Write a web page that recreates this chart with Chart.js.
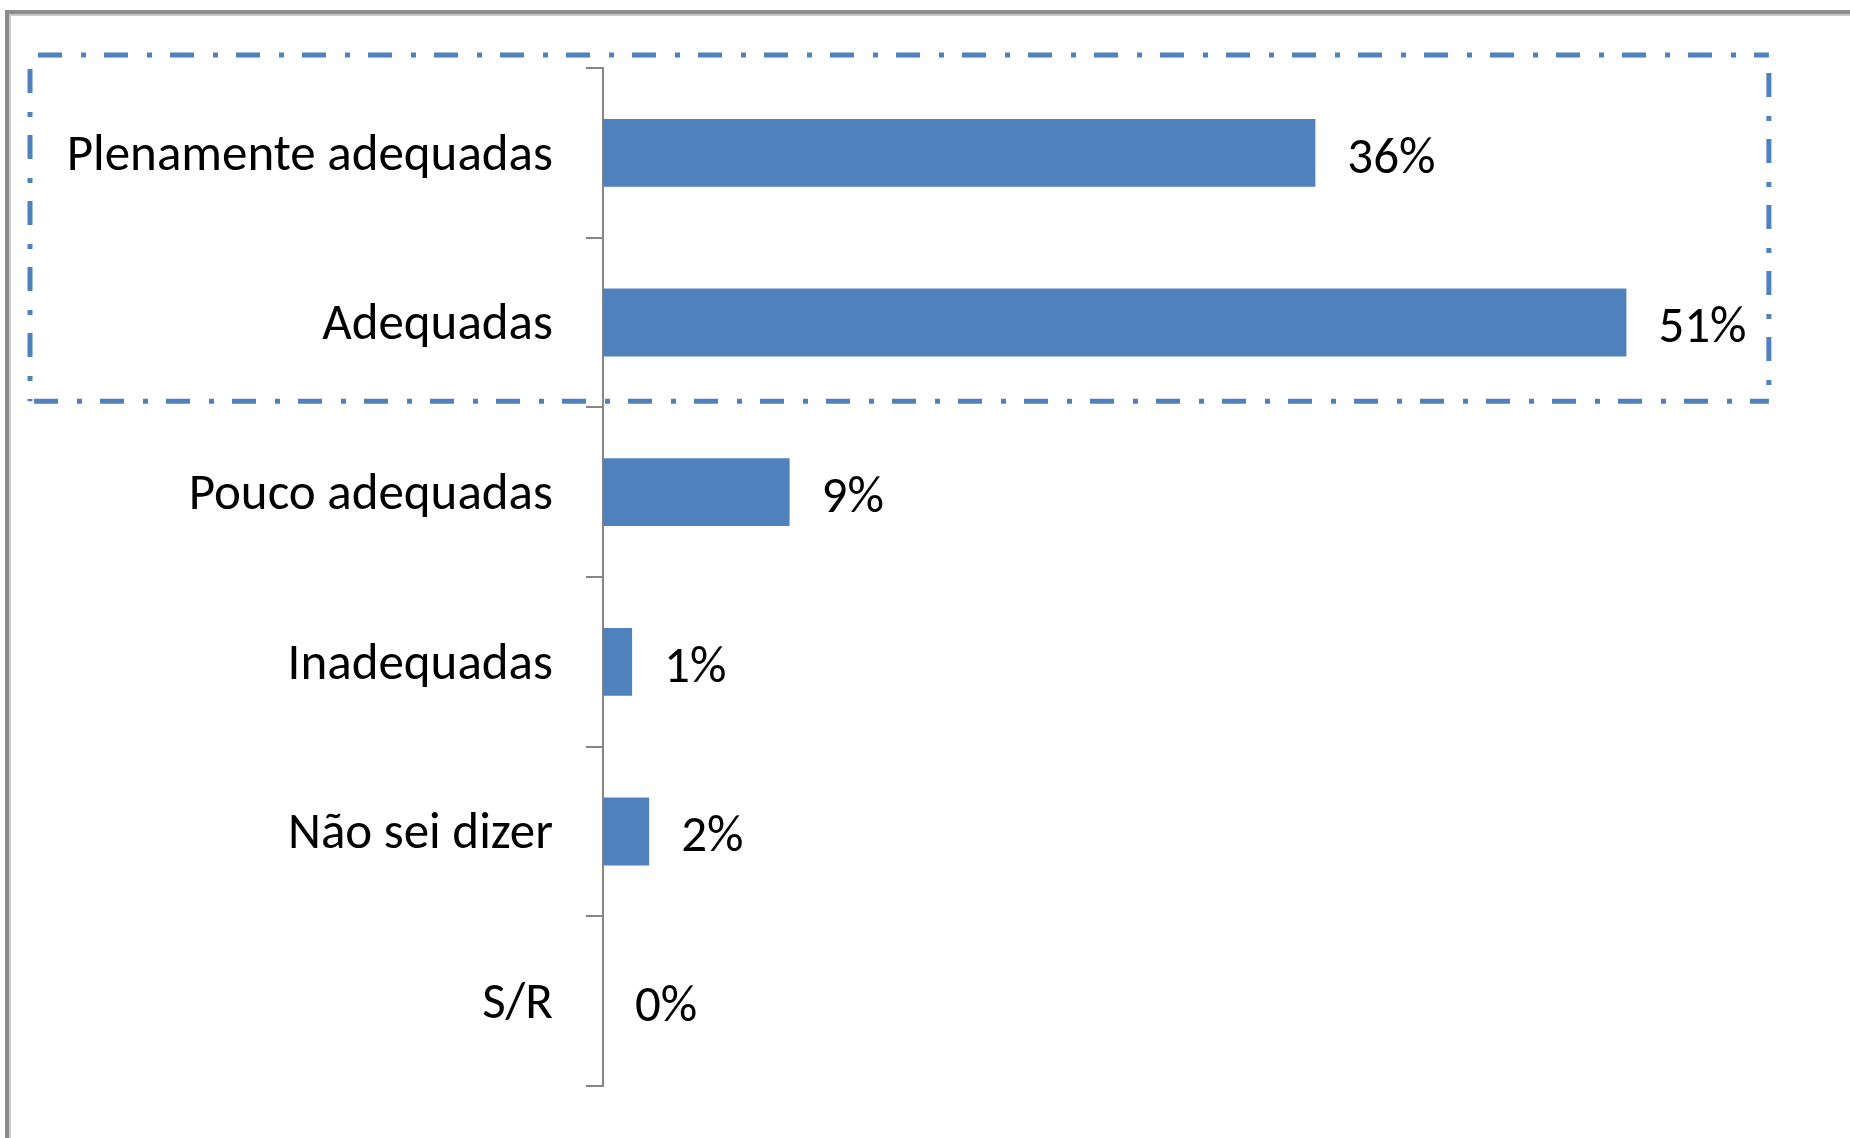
<!DOCTYPE html>
<html>
<head>
<meta charset="utf-8">
<script src="https://cdn.jsdelivr.net/npm/chart.js@4"></script>
<style>
    html, body { margin: 0; padding: 0; background: #fff; }
    #wrap { width: 1850px; height: 1138px; }
</style>
</head>
<body>
<div id="wrap"><canvas id="evalChart" width="1850" height="1138"></canvas></div>
<script>
const categories = ['Plenamente adequadas', 'Adequadas', 'Pouco adequadas', 'Inadequadas', 'Não sei dizer', 'S/R'];
const shares = [35.5, 51.0, 9.3, 1.45, 2.3, 0];
const valueLabels = ['36%', '51%', '9%', '1%', '2%', '0%'];

const FONT = 'Carlito, Lato, "Open Sans", sans-serif';
const FONT_SIZE = 51;
const BLUE = '#4F81BD';
const AXIS_GREY = '#868686';

const decor = {
    id: 'decor',
    beforeDraw(chart) {
        const ctx = chart.ctx;
        ctx.save();
        ctx.fillStyle = '#fff';
        ctx.fillRect(0, 0, chart.width, chart.height);
        // outer frame (only top and left are visible)
        ctx.strokeStyle = '#c9c9c9';
        ctx.lineWidth = 2;
        ctx.beginPath();
        ctx.moveTo(10, chart.height);
        ctx.lineTo(10, 15);
        ctx.lineTo(chart.width, 15);
        ctx.stroke();
        ctx.strokeStyle = '#8c8c8c';
        ctx.lineWidth = 4;
        ctx.beginPath();
        ctx.moveTo(7, chart.height);
        ctx.lineTo(7, 12);
        ctx.lineTo(chart.width, 12);
        ctx.stroke();
        ctx.restore();
    },
    afterDatasetsDraw(chart) {
        const ctx = chart.ctx;
        const meta = chart.getDatasetMeta(0);
        ctx.save();
        ctx.font = FONT_SIZE + 'px ' + FONT;
        ctx.fillStyle = '#000';
        ctx.textAlign = 'left';
        ctx.textBaseline = 'middle';
        meta.data.forEach((bar, i) => {
            ctx.fillText(valueLabels[i], bar.x + 32, bar.y + 7);
        });

        // dash-dot box around the first two categories
        const y = chart.scales.y;
        const top = y.top - 13;
        const bottom = (y.getPixelForValue(1) + y.getPixelForValue(2)) / 2 - 6;
        const left = 30;
        const right = chart.scales.x.getPixelForValue(58.1);
        ctx.strokeStyle = BLUE;
        ctx.lineWidth = 5;
        ctx.setLineDash([24, 19, 5, 18]);
        ctx.beginPath();
        ctx.moveTo(left + 8, top);
        ctx.lineTo(right, top);
        ctx.stroke();
        ctx.beginPath();
        ctx.moveTo(right, top + 18);
        ctx.lineTo(right, bottom);
        ctx.stroke();
        ctx.beginPath();
        ctx.moveTo(left, top + 14);
        ctx.lineTo(left, bottom);
        ctx.stroke();
        ctx.beginPath();
        ctx.moveTo(left + 4, bottom);
        ctx.lineTo(right, bottom);
        ctx.stroke();
        ctx.restore();
    }
};

new Chart(document.getElementById('evalChart'), {
    type: 'bar',
    data: {
        labels: categories,
        datasets: [{
            data: shares,
            backgroundColor: BLUE,
            borderWidth: 0,
            categoryPercentage: 1,
            barPercentage: 0.4
        }]
    },
    options: {
        indexAxis: 'y',
        responsive: false,
        animation: false,
        layout: { padding: { left: 0, right: 43, top: 68, bottom: 52 } },
        plugins: { legend: { display: false }, tooltip: { enabled: false } },
        scales: {
            x: { display: false, min: 0, max: 60 },
            y: {
                afterFit: (s) => {
                    s.width = 603;
                    // labels sit between ticks, so no extra room is needed above/below
                    s.paddingTop = 0;
                    s.paddingBottom = 0;
                },
                grid: {
                    offset: true,
                    drawOnChartArea: false,
                    drawTicks: true,
                    tickLength: 17,
                    color: AXIS_GREY,
                    lineWidth: 2
                },
                border: { display: true, color: AXIS_GREY, width: 2 },
                ticks: {
                    padding: 33,
                    labelOffset: 4,
                    color: '#000',
                    font: { family: FONT, size: FONT_SIZE }
                }
            }
        }
    },
    plugins: [decor]
});
</script>
</body>
</html>
